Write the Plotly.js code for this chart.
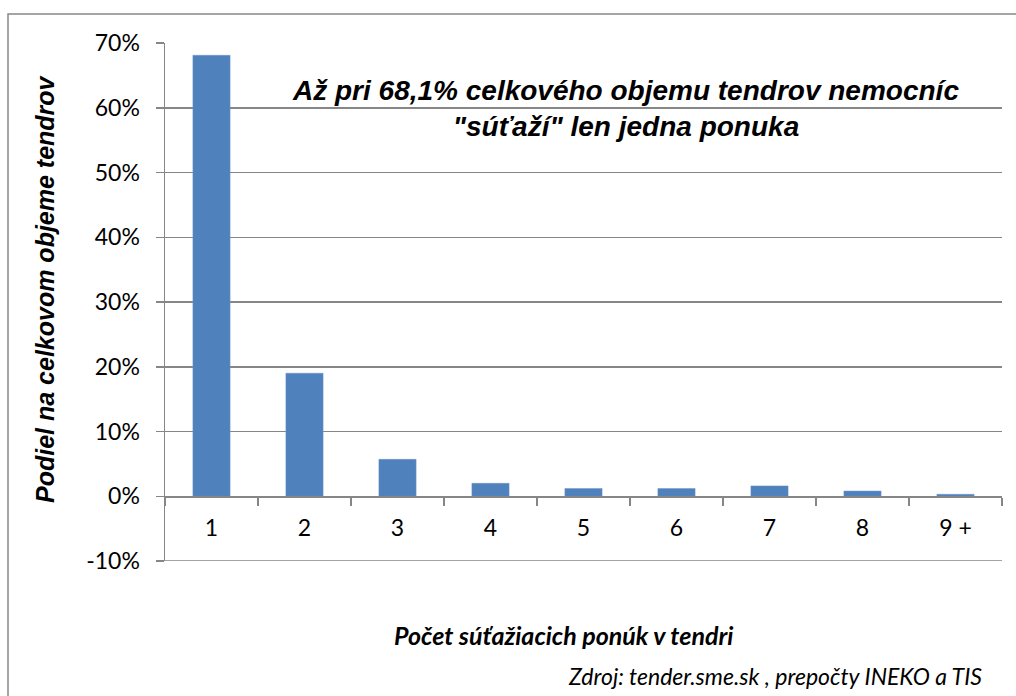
<!DOCTYPE html>
<html>
<head>
<meta charset="utf-8">
<script src="https://cdn.plot.ly/plotly-3.0.1.min.js"></script>
<style>html,body{margin:0;padding:0;background:#fff;}</style>
</head>
<body>
<div id="chart" style="width:1016px;height:696px;"></div>
<script>
// Data
const categories = ['1', '2', '3', '4', '5', '6', '7', '8', '9 +'];
const shares = [68.1, 19.0, 5.7, 2.0, 1.2, 1.2, 1.6, 0.8, 0.3];
const yTickVals = [-10, 0, 10, 20, 30, 40, 50, 60, 70];
const yTickText = ['-10%', '0%', '10%', '20%', '30%', '40%', '50%', '60%', '70%'];
const chartTitle = 'Až pri 68,1% celkového objemu tendrov nemocníc<br>"súťaží" len jedna ponuka';
const yTitle = 'Podiel na celkovom objeme tendrov';
const xTitle = 'Počet súťažiacich ponúk v tendri';
const sourceText = 'Zdroj: tender.sme.sk , prepočty INEKO a TIS';

// Pixel helpers (plot area: x 165..1002, y 43..561)
const L = 165, R = 1002, T = 43, B = 561;
const px = x => (x - L) / (R - L);
const py = y => (B - y) / (B - T);

const grid = '#868686';
const tickFont = {family: 'Lato, "Open Sans", sans-serif', size: 23, color: '#000'};

const trace = {
  type: 'bar',
  x: categories,
  y: shares,
  marker: {color: '#4F81BD', line: {color: '#6E95C9', width: 0.5}},
  hoverinfo: 'x+y'
};

const layout = {
  width: 1016,
  height: 696,
  margin: {l: L, r: 1016 - R, t: T, b: 696 - B, pad: 0},
  paper_bgcolor: '#fff',
  plot_bgcolor: '#fff',
  showlegend: false,
  bargap: 0.6,
  xaxis: {
    type: 'category',
    anchor: 'free',
    position: py(496),
    showline: true,
    linecolor: grid,
    linewidth: 1.5,
    ticks: 'outside',
    tickson: 'boundaries',
    ticklen: 8,
    tickwidth: 1.5,
    tickcolor: grid,
    showgrid: false,
    tickfont: tickFont,
    ticklabelstandoff: 11,
    fixedrange: true
  },
  yaxis: {
    range: [-10, 70],
    tickmode: 'array',
    tickvals: yTickVals,
    ticktext: yTickText,
    showline: true,
    linecolor: grid,
    linewidth: 1.5,
    ticks: 'outside',
    ticklen: 8,
    tickwidth: 1.5,
    tickcolor: grid,
    showgrid: true,
    gridcolor: grid,
    gridwidth: 1.5,
    zeroline: false,
    tickfont: tickFont,
    ticklabelstandoff: 11,
    fixedrange: true
  },
  shapes: [
    {
      type: 'rect', xref: 'paper', yref: 'paper',
      x0: px(8), x1: px(1030), y0: py(710), y1: py(14),
      line: {color: '#888', width: 1.5}, fillcolor: 'rgba(0,0,0,0)', layer: 'below'
    },
    {
      type: 'line', xref: 'paper', yref: 'y',
      x0: 0, x1: 1, y0: yTickVals[0], y1: yTickVals[0],
      line: {color: grid, width: 1.5}, layer: 'below'
    }
  ],
  annotations: [
    {
      text: '<b><i>' + chartTitle + '</i></b>',
      xref: 'paper', yref: 'paper', x: px(625), y: py(109),
      xanchor: 'center', yanchor: 'middle', showarrow: false, align: 'center',
      font: {family: '"Liberation Sans", Arial, sans-serif', size: 28, color: '#000'}
    },
    {
      text: '<b><i>' + yTitle + '</i></b>',
      xref: 'paper', yref: 'paper', x: px(45), y: py(289),
      xanchor: 'center', yanchor: 'middle', showarrow: false, textangle: -90,
      font: {family: '"Liberation Sans", Arial, sans-serif', size: 25, color: '#000'}
    },
    {
      text: '<b><i>' + xTitle + '</i></b>',
      xref: 'paper', yref: 'paper', x: px(563), y: py(635),
      xanchor: 'center', yanchor: 'middle', showarrow: false,
      font: {family: 'Lato, "Open Sans", sans-serif', size: 25, color: '#000'}
    },
    {
      text: '<i>' + sourceText + '</i>',
      xref: 'paper', yref: 'paper', x: px(984), y: py(676),
      xanchor: 'right', yanchor: 'middle', showarrow: false,
      font: {family: 'Lato, "Open Sans", sans-serif', size: 23, color: '#000'}
    }
  ]
};

Plotly.newPlot('chart', [trace], layout, {staticPlot: true, displayModeBar: false});
</script>
</body>
</html>
